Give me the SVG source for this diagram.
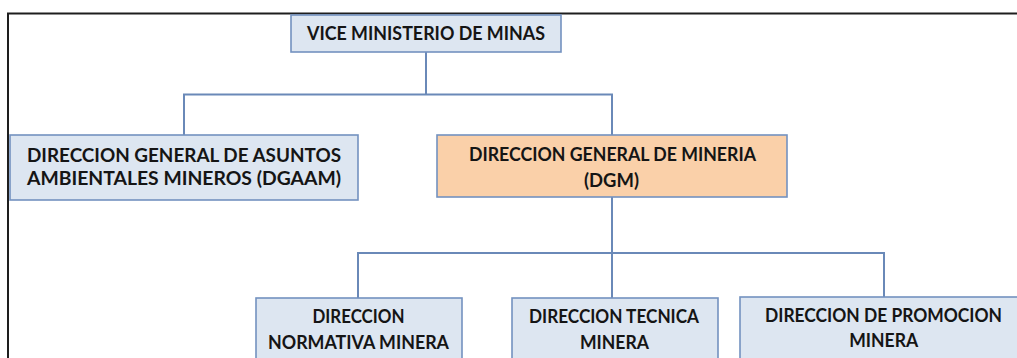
<svg xmlns="http://www.w3.org/2000/svg" width="1017" height="358" viewBox="0 0 1017 358">
<style>
.box{fill:#dde6f1;stroke:#7392c0;stroke-width:1.6}
.hl{fill:#fad0a9;stroke:#7392c0;stroke-width:1.6}
.t{font-family:Lato,"Liberation Sans",Arial,sans-serif;font-weight:bold;font-size:18.5px;fill:#151515;text-anchor:middle}
.c{fill:none;stroke:#6a89b8;stroke-width:2}
.frame{fill:none;stroke:#1e1e1e;stroke-width:2}
</style>
<rect width="1017" height="358" fill="#ffffff"/>
<path class="frame" d="M8 358 V13.5 H1017"/>
<g id="connectors">
<path class="c" d="M426 52 V94.5"/>
<path class="c" d="M184 135 V94.5 H612 V135"/>
<path class="c" d="M612 197 V298"/>
<path class="c" d="M358 298 V253 H884 V297"/>
</g>
<g id="vice">
<rect class="box" x="291" y="15" width="270" height="37"/>
<text class="t" x="426" y="39.5" textLength="238" lengthAdjust="spacingAndGlyphs">VICE MINISTERIO DE MINAS</text>
</g>
<g id="dgaam">
<rect class="box" x="10" y="135" width="348" height="65"/>
<text class="t" x="184" y="161.5" textLength="314" lengthAdjust="spacingAndGlyphs">DIRECCION GENERAL DE ASUNTOS</text>
<text class="t" x="184" y="185" textLength="314" lengthAdjust="spacingAndGlyphs">AMBIENTALES MINEROS (DGAAM)</text>
</g>
<g id="dgm">
<rect class="hl" x="437" y="135" width="350" height="62"/>
<text class="t" x="612.5" y="160.5" textLength="287" lengthAdjust="spacingAndGlyphs">DIRECCION GENERAL DE MINERIA</text>
<text class="t" x="611.5" y="187" textLength="55" lengthAdjust="spacingAndGlyphs">(DGM)</text>
</g>
<g id="normativa">
<rect class="box" x="256" y="298" width="206" height="70"/>
<text class="t" x="358.5" y="323" textLength="92" lengthAdjust="spacingAndGlyphs">DIRECCION</text>
<text class="t" x="358.5" y="349" textLength="181" lengthAdjust="spacingAndGlyphs">NORMATIVA MINERA</text>
</g>
<g id="tecnica">
<rect class="box" x="512" y="298" width="206" height="70"/>
<text class="t" x="614" y="323" textLength="170" lengthAdjust="spacingAndGlyphs">DIRECCION TECNICA</text>
<text class="t" x="614.5" y="349" textLength="69" lengthAdjust="spacingAndGlyphs">MINERA</text>
</g>
<g id="promocion">
<rect class="box" x="740" y="297" width="288" height="70"/>
<text class="t" x="883.5" y="321.5" textLength="237" lengthAdjust="spacingAndGlyphs">DIRECCION DE PROMOCION</text>
<text class="t" x="883.7" y="347" textLength="69" lengthAdjust="spacingAndGlyphs">MINERA</text>
</g>
</svg>
